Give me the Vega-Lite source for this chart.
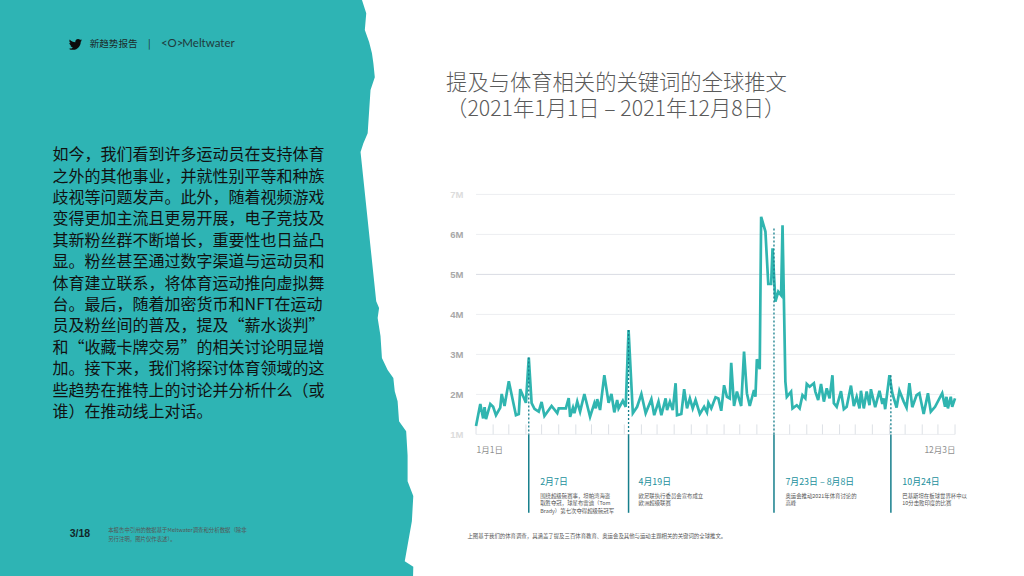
{"$schema":"https://vega.github.io/schema/vega-lite/v6.json","width":1024,"height":576,"autosize":{"type":"none"},"padding":0,"background":"#ffffff","config":{"view":{"stroke":null},"font":"Noto Sans CJK SC"},
"datasets":{
"edge":[{"edge":"2020-10-13","pos":11.86},{"edge":"2020-10-16","pos":11.53},{"edge":"2020-10-16","pos":11.28},{"edge":"2020-10-15","pos":11.11},{"edge":"2020-10-18","pos":10.81},{"edge":"2020-10-20","pos":10.53},{"edge":"2020-10-21","pos":10.28},{"edge":"2020-10-22","pos":9.93},{"edge":"2020-10-19","pos":9.61},{"edge":"2020-10-16","pos":9.18},{"edge":"2020-10-16","pos":8.78},{"edge":"2020-10-17","pos":8.53},{"edge":"2020-10-14","pos":8.28},{"edge":"2020-10-12","pos":8.06},{"edge":"2020-10-13","pos":7.86},{"edge":"2020-10-13","pos":7.68},{"edge":"2020-10-14","pos":7.28},{"edge":"2020-10-15","pos":6.86},{"edge":"2020-10-16","pos":6.53},{"edge":"2020-10-19","pos":6.28},{"edge":"2020-10-22","pos":5.91},{"edge":"2020-10-18","pos":5.53},{"edge":"2020-10-22","pos":5.16},{"edge":"2020-10-21","pos":4.68},{"edge":"2020-10-23","pos":4.33},{"edge":"2020-10-25","pos":4.16},{"edge":"2020-10-24","pos":3.91},{"edge":"2020-10-26","pos":3.46},{"edge":"2020-10-27","pos":2.91},{"edge":"2020-10-31","pos":2.61},{"edge":"2020-11-04","pos":2.41},{"edge":"2020-11-05","pos":2.08},{"edge":"2020-11-07","pos":1.83},{"edge":"2020-11-08","pos":1.33},{"edge":"2020-11-13","pos":1.08},{"edge":"2020-11-14","pos":0.48},{"edge":"2020-11-14","pos":-0.17},{"edge":"2020-11-18","pos":-0.54},{"edge":"2020-11-17","pos":-1.17},{"edge":"2020-11-18","pos":-1.77},{"edge":"2020-11-12","pos":-2.17},{"edge":"2020-11-17","pos":-2.54}],
"grid":[{"m":7,"start":"2021-01-01","end":"2021-12-03"},{"m":6,"start":"2021-01-01","end":"2021-12-03"},{"m":5,"start":"2021-01-01","end":"2021-12-03"},{"m":4,"start":"2021-01-01","end":"2021-12-03"},{"m":3,"start":"2021-01-01","end":"2021-12-03"},{"m":2,"start":"2021-01-01","end":"2021-12-03"},{"m":1,"start":"2021-01-01","end":"2021-12-03"}],
"ticks":[{"date":"2021-01-01"},{"date":"2021-01-13"},{"date":"2021-01-24"},{"date":"2021-02-05"},{"date":"2021-02-16"},{"date":"2021-02-28"},{"date":"2021-03-12"},{"date":"2021-03-23"},{"date":"2021-04-04"},{"date":"2021-04-15"},{"date":"2021-04-27"},{"date":"2021-05-08"},{"date":"2021-05-20"},{"date":"2021-06-01"},{"date":"2021-06-12"},{"date":"2021-06-24"},{"date":"2021-07-05"},{"date":"2021-07-17"},{"date":"2021-07-29"},{"date":"2021-08-09"},{"date":"2021-08-21"},{"date":"2021-09-01"},{"date":"2021-09-13"},{"date":"2021-09-24"},{"date":"2021-10-06"},{"date":"2021-10-18"},{"date":"2021-10-29"},{"date":"2021-11-10"},{"date":"2021-11-21"},{"date":"2021-12-03"}],
"tweets":[{"date":"2021-01-01","tweets":1.21},{"date":"2021-01-04","tweets":1.76},{"date":"2021-01-06","tweets":1.40},{"date":"2021-01-07","tweets":1.68},{"date":"2021-01-08","tweets":1.38},{"date":"2021-01-11","tweets":1.76},{"date":"2021-01-13","tweets":1.69},{"date":"2021-01-15","tweets":1.48},{"date":"2021-01-18","tweets":1.67},{"date":"2021-01-19","tweets":2.01},{"date":"2021-01-21","tweets":1.71},{"date":"2021-01-24","tweets":2.33},{"date":"2021-01-29","tweets":1.48},{"date":"2021-01-31","tweets":1.51},{"date":"2021-02-01","tweets":2.13},{"date":"2021-02-05","tweets":1.79},{"date":"2021-02-07","tweets":2.92},{"date":"2021-02-09","tweets":1.78},{"date":"2021-02-11","tweets":1.64},{"date":"2021-02-14","tweets":1.57},{"date":"2021-02-16","tweets":1.81},{"date":"2021-02-18","tweets":1.46},{"date":"2021-02-23","tweets":1.71},{"date":"2021-02-27","tweets":1.53},{"date":"2021-02-28","tweets":1.65},{"date":"2021-03-05","tweets":1.65},{"date":"2021-03-07","tweets":1.91},{"date":"2021-03-08","tweets":1.44},{"date":"2021-03-10","tweets":1.67},{"date":"2021-03-11","tweets":1.53},{"date":"2021-03-13","tweets":1.82},{"date":"2021-03-15","tweets":1.57},{"date":"2021-03-18","tweets":2.01},{"date":"2021-03-22","tweets":1.44},{"date":"2021-03-25","tweets":1.78},{"date":"2021-03-26","tweets":1.65},{"date":"2021-03-27","tweets":1.88},{"date":"2021-03-29","tweets":1.61},{"date":"2021-04-01","tweets":2.48},{"date":"2021-04-04","tweets":1.79},{"date":"2021-04-06","tweets":2.01},{"date":"2021-04-08","tweets":1.55},{"date":"2021-04-10","tweets":1.86},{"date":"2021-04-11","tweets":1.65},{"date":"2021-04-14","tweets":1.84},{"date":"2021-04-16","tweets":1.69},{"date":"2021-04-18","tweets":3.61},{"date":"2021-04-21","tweets":1.53},{"date":"2021-04-24","tweets":1.69},{"date":"2021-04-27","tweets":2.01},{"date":"2021-04-30","tweets":1.53},{"date":"2021-05-04","tweets":1.88},{"date":"2021-05-06","tweets":1.48},{"date":"2021-05-09","tweets":1.82},{"date":"2021-05-11","tweets":1.48},{"date":"2021-05-14","tweets":1.90},{"date":"2021-05-15","tweets":1.61},{"date":"2021-05-17","tweets":1.82},{"date":"2021-05-19","tweets":1.61},{"date":"2021-05-21","tweets":2.28},{"date":"2021-05-22","tweets":1.48},{"date":"2021-05-25","tweets":1.51},{"date":"2021-05-27","tweets":2.13},{"date":"2021-05-29","tweets":1.65},{"date":"2021-05-31","tweets":1.90},{"date":"2021-06-02","tweets":1.65},{"date":"2021-06-04","tweets":1.86},{"date":"2021-06-07","tweets":1.51},{"date":"2021-06-10","tweets":1.69},{"date":"2021-06-12","tweets":1.55},{"date":"2021-06-13","tweets":1.79},{"date":"2021-06-15","tweets":1.65},{"date":"2021-06-18","tweets":1.93},{"date":"2021-06-20","tweets":1.90},{"date":"2021-06-22","tweets":1.59},{"date":"2021-06-24","tweets":2.23},{"date":"2021-06-26","tweets":1.94},{"date":"2021-06-28","tweets":1.90},{"date":"2021-06-29","tweets":2.79},{"date":"2021-07-01","tweets":1.71},{"date":"2021-07-03","tweets":2.07},{"date":"2021-07-06","tweets":1.71},{"date":"2021-07-08","tweets":3.07},{"date":"2021-07-10","tweets":2.03},{"date":"2021-07-12","tweets":1.71},{"date":"2021-07-15","tweets":2.11},{"date":"2021-07-16","tweets":1.94},{"date":"2021-07-17","tweets":2.88},{"date":"2021-07-19","tweets":2.63},{"date":"2021-07-20","tweets":6.44},{"date":"2021-07-23","tweets":6.07},{"date":"2021-07-25","tweets":4.76},{"date":"2021-07-27","tweets":4.76},{"date":"2021-07-28","tweets":5.65},{"date":"2021-07-30","tweets":4.32},{"date":"2021-08-01","tweets":4.57},{"date":"2021-08-03","tweets":4.48},{"date":"2021-08-04","tweets":6.23},{"date":"2021-08-06","tweets":2.32},{"date":"2021-08-07","tweets":1.94},{"date":"2021-08-10","tweets":2.07},{"date":"2021-08-11","tweets":1.65},{"date":"2021-08-14","tweets":1.73},{"date":"2021-08-16","tweets":1.65},{"date":"2021-08-18","tweets":1.98},{"date":"2021-08-20","tweets":1.90},{"date":"2021-08-21","tweets":2.26},{"date":"2021-08-23","tweets":2.19},{"date":"2021-08-26","tweets":2.28},{"date":"2021-08-27","tweets":2.07},{"date":"2021-08-29","tweets":1.86},{"date":"2021-08-31","tweets":2.26},{"date":"2021-09-02","tweets":1.82},{"date":"2021-09-04","tweets":2.15},{"date":"2021-09-06","tweets":1.90},{"date":"2021-09-08","tweets":2.48},{"date":"2021-09-09","tweets":1.78},{"date":"2021-09-11","tweets":1.69},{"date":"2021-09-14","tweets":2.08},{"date":"2021-09-16","tweets":1.63},{"date":"2021-09-18","tweets":1.69},{"date":"2021-09-21","tweets":2.22},{"date":"2021-09-23","tweets":1.71},{"date":"2021-09-25","tweets":1.94},{"date":"2021-09-27","tweets":1.65},{"date":"2021-09-28","tweets":2.09},{"date":"2021-09-30","tweets":1.65},{"date":"2021-10-02","tweets":2.07},{"date":"2021-10-04","tweets":1.73},{"date":"2021-10-05","tweets":2.13},{"date":"2021-10-08","tweets":1.68},{"date":"2021-10-11","tweets":2.09},{"date":"2021-10-13","tweets":1.76},{"date":"2021-10-14","tweets":1.90},{"date":"2021-10-15","tweets":1.63},{"date":"2021-10-18","tweets":2.48},{"date":"2021-10-20","tweets":2.03},{"date":"2021-10-23","tweets":1.67},{"date":"2021-10-25","tweets":2.09},{"date":"2021-10-28","tweets":1.82},{"date":"2021-10-30","tweets":1.67},{"date":"2021-11-01","tweets":2.28},{"date":"2021-11-03","tweets":1.68},{"date":"2021-11-06","tweets":1.98},{"date":"2021-11-08","tweets":2.03},{"date":"2021-11-11","tweets":1.51},{"date":"2021-11-14","tweets":2.03},{"date":"2021-11-16","tweets":1.57},{"date":"2021-11-19","tweets":1.69},{"date":"2021-11-24","tweets":2.03},{"date":"2021-11-26","tweets":1.69},{"date":"2021-11-27","tweets":1.94},{"date":"2021-11-28","tweets":1.65},{"date":"2021-11-30","tweets":1.94},{"date":"2021-12-01","tweets":1.69},{"date":"2021-12-03","tweets":1.90}],
"events":[{"date":"2021-02-07","peak":2.92,"base":1,"foot":-0.96},{"date":"2021-04-18","peak":3.61,"base":1,"foot":-0.96},{"date":"2021-07-29","peak":6.15,"base":1,"foot":-0.96},{"date":"2021-10-19","peak":2.48,"base":1,"foot":-0.96}],
"para":[{"d":"2020-03-10","v":7.98,"t":"如今，我们看到许多运动员在支持体育"},{"d":"2020-03-10","v":7.445,"t":"之外的其他事业，并就性别平等和种族"},{"d":"2020-03-10","v":6.91,"t":"歧视等问题发声。此外，随着视频游戏"},{"d":"2020-03-10","v":6.375,"t":"变得更加主流且更易开展，电子竞技及"},{"d":"2020-03-10","v":5.84,"t":"其新粉丝群不断增长，重要性也日益凸"},{"d":"2020-03-10","v":5.305,"t":"显。粉丝甚至通过数字渠道与运动员和"},{"d":"2020-03-10","v":4.77,"t":"体育建立联系，将体育运动推向虚拟舞"},{"d":"2020-03-10","v":4.235,"t":"台。最后，随着加密货币和NFT在运动"},{"d":"2020-03-10","v":3.7,"t":"员及粉丝间的普及，提及“薪水谈判”"},{"d":"2020-03-10","v":3.165,"t":"和“收藏卡牌交易”的相关讨论明显增"},{"d":"2020-03-10","v":2.63,"t":"加。接下来，我们将探讨体育领域的这"},{"d":"2020-03-10","v":2.095,"t":"些趋势在推特上的讨论并分析什么（或"},{"d":"2020-03-10","v":1.56,"t":"谁）在推动线上对话。"}],
"title":[{"d":"2020-12-11","v":9.76,"t":"提及与体育相关的关键词的全球推文"},{"d":"2020-12-11","v":9.11,"t":"（2021年1月1日 – 2021年12月8日）"}],
"heads":[{"d":"2021-02-15","v":-0.2,"t":"2月7日"},{"d":"2021-04-25","v":-0.2,"t":"4月19日"},{"d":"2021-08-06","v":-0.2,"t":"7月23日 – 8月8日"},{"d":"2021-10-27","v":-0.2,"t":"10月24日"}],
"notes":[{"d":"2021-02-15","v":-0.535,"t":"围绕超级碗赛事，坦帕湾海盗"},{"d":"2021-02-15","v":-0.71,"t":"取胜夺冠，球星布雷迪（Tom"},{"d":"2021-02-15","v":-0.92,"t":"Brady）第七次夺得超级碗冠军"},{"d":"2021-04-25","v":-0.535,"t":"欧足联执行委员会宣布成立"},{"d":"2021-04-25","v":-0.71,"t":"欧洲超级联赛"},{"d":"2021-08-06","v":-0.535,"t":"奥运会推动2021年体育讨论的"},{"d":"2021-08-06","v":-0.71,"t":"高峰"},{"d":"2021-10-27","v":-0.535,"t":"巴基斯坦在板球世界杯中以"},{"d":"2021-10-27","v":-0.71,"t":"10分击败印度的比赛"},{"d":"2020-12-26","v":-1.54,"t":"上图基于我们的体育调查，其涵盖了提及三百体育教育、奥运会及其他与运动主题相关的关键词的全球推文。"},{"d":"2020-04-18","v":-1.39,"t":"本报告中引用的数据基于Meltwater调查和分析数据（除非"},{"d":"2020-04-18","v":-1.62,"t":"另行注明，图片仅作表述）。"}],
"header":[{"d":"2020-04-05","v":10.76,"t":"新趋势报告"},{"d":"2020-05-16","v":10.76,"t":"|"}],
"brand":[{"d":"2020-05-25","v":10.76,"t":"<O>"},{"d":"2020-06-09","v":10.76,"t":"Meltwater"}]
},
"layer":[
{"data":{"name":"edge"},"mark":{"type":"area","orient":"horizontal","color":"#2eb4b4"},"encoding":{"x":{"field":"edge","type":"temporal","scale":{"type":"utc","domain":[{"year":2020,"month":2,"date":2,"hours":2,"minutes":24,"utc":true},{"year":2022,"month":1,"date":20,"hours":9,"utc":true}]}},"x2":{"datum":{"year":2020,"month":2,"date":2,"hours":2,"minutes":24,"utc":true}},"y":{"field":"pos","type":"quantitative","sort":null,"scale":{"domain":[-2.54,11.86],"nice":false,"zero":false}}}},
{"data":{"name":"grid"},"mark":{"type":"rule","strokeWidth":1},"encoding":{"x":{"field":"start","type":"temporal"},"x2":{"field":"end"},"y":{"field":"m","type":"quantitative"},"color":{"condition":{"test":"datum.m==5","value":"#d9dce3"},"value":"#eceef1"}}},
{"data":{"name":"ticks"},"mark":{"type":"rule","strokeWidth":1,"color":"#dde1e6"},"encoding":{"x":{"field":"date","type":"temporal"},"y":{"datum":1},"y2":{"datum":1.25}}},
{"data":{"name":"tweets"},"mark":{"type":"line","color":"#30b5b0","strokeWidth":2.7,"strokeJoin":"miter","interpolate":"linear"},"encoding":{"x":{"field":"date","type":"temporal","axis":{"title":null,"orient":"bottom","offset":-141.7,"domain":false,"grid":false,"ticks":false,"labelPadding":11,"labelColor":"#8f8f8f","labelFontSize":8.5,"labelOverlap":false,"labelFlush":false,"labelAlign":{"condition":{"test":"datum.value<1620000000000","value":"left"},"value":"right"},"labelExpr":"utcFormat(datum.value,'%-m月%-d日')","values":[1609459200000,1638489600000]}},"y":{"field":"tweets","type":"quantitative","axis":{"title":null,"orient":"left","offset":-465,"domain":false,"ticks":false,"grid":false,"values":[1,2,3,4,5,6,7],"labelPadding":2,"labelFontSize":9.5,"labelFontWeight":"bold","labelFont":"Liberation Sans","labelColor":{"condition":{"test":"datum.value==7||datum.value==1","value":"#dcdcdc"},"value":"#a8a8a8"},"labelExpr":"datum.value+'M'"}}}},
{"data":{"name":"events"},"mark":{"type":"rule","color":"#167f8c","strokeWidth":1.5},"encoding":{"x":{"field":"date","type":"temporal"},"y":{"field":"base","type":"quantitative"},"y2":{"field":"foot"}}},
{"data":{"name":"events"},"mark":{"type":"rule","color":"#167f8c","strokeWidth":1.3,"strokeDash":[2,2]},"encoding":{"x":{"field":"date","type":"temporal"},"y":{"field":"peak","type":"quantitative"},"y2":{"field":"base"}}},
{"data":{"name":"para"},"mark":{"type":"text","align":"left","baseline":"middle","fontSize":16,"color":"#111111","font":"Noto Sans CJK SC"},"encoding":{"x":{"field":"d","type":"temporal"},"y":{"field":"v","type":"quantitative"},"text":{"field":"t"}}},
{"data":{"name":"title"},"mark":{"type":"text","align":"left","baseline":"middle","fontSize":21.3,"color":"#5a5a5a","font":"Noto Sans CJK SC","fontWeight":300},"encoding":{"x":{"field":"d","type":"temporal"},"y":{"field":"v","type":"quantitative"},"text":{"field":"t"}}},
{"data":{"name":"heads"},"mark":{"type":"text","align":"left","baseline":"middle","fontSize":8.9,"color":"#23909c","font":"Noto Sans CJK SC"},"encoding":{"x":{"field":"d","type":"temporal"},"y":{"field":"v","type":"quantitative"},"text":{"field":"t"}}},
{"data":{"name":"notes"},"mark":{"type":"text","align":"left","baseline":"middle","fontSize":5.4,"color":"#555555","font":"Noto Sans CJK SC"},"encoding":{"x":{"field":"d","type":"temporal"},"y":{"field":"v","type":"quantitative"},"text":{"field":"t"}}},
{"data":{"name":"header"},"mark":{"type":"text","align":"left","baseline":"middle","fontSize":9.6,"color":"#1c2b2b","font":"Noto Sans CJK SC"},"encoding":{"x":{"field":"d","type":"temporal"},"y":{"field":"v","type":"quantitative"},"text":{"field":"t"}}},
{"data":{"name":"brand"},"mark":{"type":"text","align":"left","baseline":"middle","fontSize":11.5,"color":"#1f3a3c","font":"Lato"},"encoding":{"x":{"field":"d","type":"temporal"},"y":{"field":"v","type":"quantitative"},"text":{"field":"t"}}},
{"data":{"values":[{"d":"2020-03-22","v":-1.5,"t":"3/18"}]},"mark":{"type":"text","align":"left","baseline":"middle","fontSize":10.5,"color":"#12282a","font":"Liberation Sans","fontWeight":"bold"},"encoding":{"x":{"field":"d","type":"temporal"},"y":{"field":"v","type":"quantitative"},"text":{"field":"t"}}},
{"data":{"values":[{"d":"2020-03-26","v":10.75}]},"mark":{"type":"point","filled":true,"opacity":1,"color":"#0c0c0c","size":180,"shape":"M1,-0.62 C0.93,-0.59 0.85,-0.57 0.77,-0.56 C0.85,-0.61 0.92,-0.69 0.95,-0.78 C0.87,-0.73 0.78,-0.7 0.69,-0.68 C0.62,-0.76 0.51,-0.81 0.39,-0.81 C0.17,-0.81 -0.02,-0.63 -0.02,-0.4 C-0.02,-0.37 -0.01,-0.34 0,-0.31 C-0.34,-0.33 -0.64,-0.49 -0.84,-0.74 C-0.88,-0.68 -0.9,-0.6 -0.9,-0.53 C-0.9,-0.39 -0.83,-0.26 -0.72,-0.19 C-0.79,-0.19 -0.85,-0.21 -0.91,-0.24 C-0.91,-0.04 -0.77,0.13 -0.58,0.17 C-0.65,0.19 -0.72,0.19 -0.76,0.18 C-0.7,0.34 -0.55,0.46 -0.37,0.46 C-0.51,0.57 -0.69,0.64 -0.88,0.64 C-0.92,0.64 -0.96,0.64 -1,0.63 C-0.82,0.75 -0.6,0.81 -0.37,0.81 C0.38,0.81 0.79,0.19 0.79,-0.36 L0.79,-0.41 C0.87,-0.47 0.94,-0.54 1,-0.62 Z"},"encoding":{"x":{"field":"d","type":"temporal"},"y":{"field":"v","type":"quantitative"}}}
]}
